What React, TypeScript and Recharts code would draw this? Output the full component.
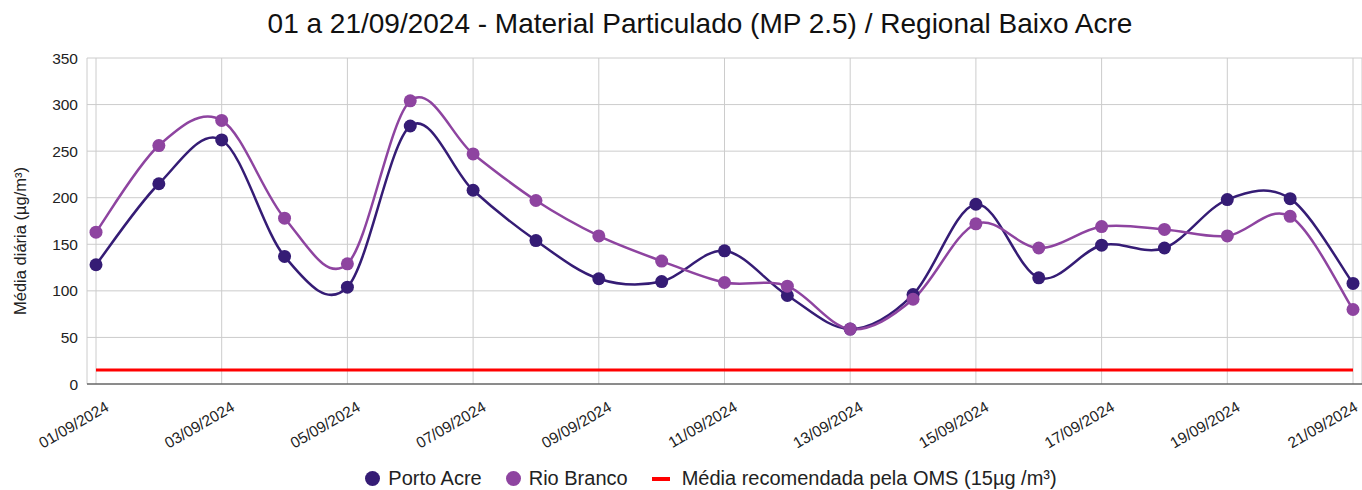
import { CartesianGrid, Line, LineChart, XAxis, YAxis } from "recharts";

const dates = [
  "01/09/2024", "02/09/2024", "03/09/2024", "04/09/2024", "05/09/2024", "06/09/2024", "07/09/2024",
  "08/09/2024", "09/09/2024", "10/09/2024", "11/09/2024", "12/09/2024", "13/09/2024", "14/09/2024",
  "15/09/2024", "16/09/2024", "17/09/2024", "18/09/2024", "19/09/2024", "20/09/2024", "21/09/2024"
];
const tickDates = [
  "01/09/2024", "03/09/2024", "05/09/2024", "07/09/2024", "09/09/2024", "11/09/2024",
  "13/09/2024", "15/09/2024", "17/09/2024", "19/09/2024", "21/09/2024"
];
const portoAcre = [128, 215, 262, 137, 104, 277, 208, 154, 113, 110, 143, 95, 59, 96, 193, 114, 149, 146, 198, 199, 108];
const rioBranco = [163, 256, 283, 178, 129, 304, 247, 197, 159, 132, 109, 105, 59, 91, 172, 146, 169, 166, 159, 180, 80];
const omsLimit = 15;
const yTicks = [0, 50, 100, 150, 200, 250, 300, 350];

const FONT = "Arial, 'Liberation Sans', sans-serif";
const PORTO = "#351c75";
const RIO = "#8e44a0";
const OMS = "#ff0000";

const data = dates.map((d, i) => ({
  date: d,
  porto: portoAcre[i],
  rio: rioBranco[i],
  oms: omsLimit
}));

// catmull-rom style smoothing, like the sheets "function" curve
const smoothCurve = (context: any) => {
  let pts: number[][] = [];
  return {
    areaStart() {},
    areaEnd() {},
    lineStart() {
      pts = [];
    },
    point(x: number, y: number) {
      pts.push([+x, +y]);
    },
    lineEnd() {
      if (!pts.length) return;
      context.moveTo(pts[0][0], pts[0][1]);
      for (let i = 0; i < pts.length - 1; i++) {
        const p0 = pts[i - 1] || pts[i];
        const p1 = pts[i];
        const p2 = pts[i + 1];
        const p3 = pts[i + 2] || p2;
        context.bezierCurveTo(
          p1[0] + (p2[0] - p0[0]) / 6,
          p1[1] + (p2[1] - p0[1]) / 6,
          p2[0] - (p3[0] - p1[0]) / 6,
          p2[1] - (p3[1] - p1[1]) / 6,
          p2[0],
          p2[1]
        );
      }
    }
  };
};

const DateTick = ({ x, y, payload }: any) => {
  const tx = Math.min(x + 14, 1359);
  const ty = y + 26;
  return (
    <text
      x={tx}
      y={ty}
      transform={`rotate(-30, ${tx}, ${ty})`}
      textAnchor="end"
      fontSize={15.5}
      fontFamily={FONT}
      fill="#222"
    >
      {payload.value}
    </text>
  );
};

const legendItems = [
  { name: "Porto Acre", color: PORTO, icon: "dot" },
  { name: "Rio Branco", color: RIO, icon: "dot" },
  { name: "Média recomendada pela OMS (15µg /m³)", color: OMS, icon: "line" }
];

export default function App() {
  return (
    <div style={{ position: "absolute", left: 0, top: 0, width: 1362, height: 490, background: "#fff", fontFamily: FONT }}>
      <div
        style={{
          position: "absolute",
          top: 8,
          left: 19,
          width: 1362,
          textAlign: "center",
          fontSize: 28,
          color: "#111"
        }}
      >
        01 a 21/09/2024 - Material Particulado (MP 2.5) / Regional Baixo Acre
      </div>
      <LineChart width={1362} height={490} data={data} margin={{ top: 58, right: 0, bottom: 76, left: 0 }}>
        <CartesianGrid stroke="#cccccc" />
        <XAxis
          dataKey="date"
          ticks={tickDates}
          interval={0}
          height={30}
          padding={{ left: 9, right: 9 }}
          tick={<DateTick />}
          tickSize={0}
          tickMargin={0}
          tickLine={false}
          axisLine={{ stroke: "#333" }}
        />
        <YAxis
          domain={[0, 350]}
          ticks={yTicks}
          width={87}
          axisLine={false}
          tickLine={false}
          tickSize={0}
          tickMargin={9}
          tick={{ fill: "#222", fontSize: 15.5, fontFamily: FONT }}
          label={{
            content: () => (
              <text
                x={26}
                y={241}
                transform="rotate(-90, 26, 241)"
                textAnchor="middle"
                fontSize={16.5}
                fontFamily={FONT}
                fill="#222"
              >
                Média diária (µg/m³)
              </text>
            )
          }}
        />
        <Line
          dataKey="porto"
          type={smoothCurve as any}
          stroke={PORTO}
          strokeWidth={2.5}
          dot={{ r: 6.5, fill: PORTO, stroke: PORTO, strokeWidth: 0 }}
          isAnimationActive={false}
        />
        <Line
          dataKey="rio"
          type={smoothCurve as any}
          stroke={RIO}
          strokeWidth={2.5}
          dot={{ r: 6.5, fill: RIO, stroke: RIO, strokeWidth: 0 }}
          isAnimationActive={false}
        />
        <Line
          dataKey="oms"
          type="linear"
          stroke={OMS}
          strokeWidth={3}
          dot={false}
          isAnimationActive={false}
        />
      </LineChart>
      <div
        style={{
          position: "absolute",
          top: 467,
          left: 30,
          width: 1362,
          display: "flex",
          justifyContent: "center",
          alignItems: "center",
          fontSize: 20,
          color: "#222",
          gap: 24
        }}
      >
        {legendItems.map((item) => (
          <div key={item.name} style={{ display: "flex", alignItems: "center", gap: 8 }}>
            {item.icon === "dot" ? (
              <span style={{ width: 15, height: 15, borderRadius: "50%", background: item.color, display: "inline-block" }} />
            ) : (
              <span style={{ width: 18, height: 4, background: item.color, display: "inline-block", marginRight: 4 }} />
            )}
            <span>{item.name}</span>
          </div>
        ))}
      </div>
    </div>
  );
}
